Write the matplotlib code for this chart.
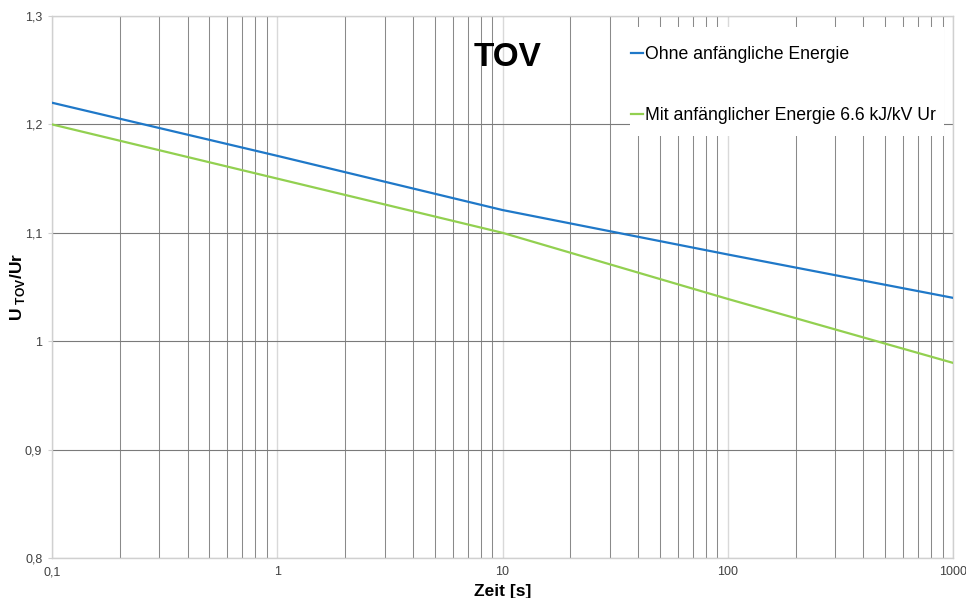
import matplotlib
matplotlib.use("Agg")
import matplotlib.pyplot as plt
from matplotlib.ticker import FixedLocator, FixedFormatter, LogLocator, NullFormatter
from matplotlib.patches import Rectangle

# ---- data ----
time_s = [0.1, 1, 10, 100, 1000]
ohne = [1.220, 1.171, 1.121, 1.080, 1.040]
mit = [1.200, 1.150, 1.100, 1.039, 0.980]
series_labels = ["Ohne anfängliche Energie", "Mit anfänglicher Energie 6.6 kJ/kV Ur"]
x_ticks = [0.1, 1, 10, 100, 1000]
x_ticklabels = ["0,1", "1", "10", "100", "1000"]
y_ticks = [0.8, 0.9, 1.0, 1.1, 1.2, 1.3]
y_ticklabels = ["0,8", "0,9", "1", "1,1", "1,2", "1,3"]

plt.rcParams['font.family'] = ['Liberation Sans', 'DejaVu Sans']
plt.rcParams['mathtext.fontset'] = 'custom'
plt.rcParams['mathtext.rm'] = 'Liberation Sans'
plt.rcParams['mathtext.bf'] = 'Liberation Sans:bold'

fig = plt.figure(figsize=(9.66, 5.98), dpi=100)
W, H = 966, 598
x0, x1, yt, yb = 52, 953, 16, 558
ax = fig.add_axes([x0 / W, 1 - yb / H, (x1 - x0) / W, (yb - yt) / H])

ax.set_xscale('log')
ax.set_xlim(0.1, 1000)
ax.set_ylim(0.8, 1.3)

ax.xaxis.set_major_locator(FixedLocator(x_ticks))
ax.xaxis.set_major_formatter(FixedFormatter(x_ticklabels))
ax.xaxis.set_minor_locator(LogLocator(base=10, subs=range(2, 10)))
ax.xaxis.set_minor_formatter(NullFormatter())
ax.yaxis.set_major_locator(FixedLocator(y_ticks))
ax.yaxis.set_major_formatter(FixedFormatter(y_ticklabels))

ax.grid(True, which='major', axis='x', color='#d9d9d9', lw=1.0, zorder=1)
ax.grid(True, which='minor', axis='x', color='#8a8a8a', lw=0.75, zorder=1)
ax.grid(True, which='major', axis='y', color='#7a7a7a', lw=0.8, zorder=1)
ax.set_axisbelow(True)

for s in ax.spines.values():
    s.set_color('#d0d0d0')
    s.set_linewidth(1.0)

ax.tick_params(axis='x', which='both', length=0, pad=6, labelsize=9, labelcolor='#404040')
ax.tick_params(axis='y', which='major', length=3, color='#d0d0d0', pad=4, labelsize=9, labelcolor='#404040')

ax.plot(time_s, ohne, color='#1f78c8', lw=1.6, zorder=3, label=series_labels[0])
ax.plot(time_s, mit, color='#92d050', lw=1.6, zorder=3, label=series_labels[1])

# white legend backdrop
bx0, bx1, by0, by1 = 630, 944, 27, 136
ax.add_patch(Rectangle(((bx0 - x0) / (x1 - x0), 1 - (by1 - yt) / (yb - yt)),
                       (bx1 - bx0) / (x1 - x0), (by1 - by0) / (yb - yt),
                       transform=ax.transAxes, facecolor='white', edgecolor='none', zorder=2))

leg = ax.legend(loc='upper left', bbox_to_anchor=((631 - x0) / (x1 - x0), 1 - (46 - yt) / (yb - yt)),
                frameon=False, fontsize=12.7, handlelength=0.7, handletextpad=0.1,
                labelspacing=2.5, borderpad=0, borderaxespad=0)
leg.set_zorder(4)

ax.text((508 - x0) / (x1 - x0), 1 - (57 - yt) / (yb - yt), "TOV", transform=ax.transAxes,
        ha='center', va='center', fontsize=24, fontweight='bold', zorder=4)

ax.set_xlabel("Zeit [s]", fontsize=12.5, fontweight='bold', labelpad=4)
ax.set_ylabel(r'$\mathbf{U}_{\ \mathbf{TOV}}\mathbf{/Ur}$', fontsize=12.5)
ax.yaxis.set_label_coords((27 - x0) / (x1 - x0), 0.5)

fig.savefig("out.png", dpi=100)
